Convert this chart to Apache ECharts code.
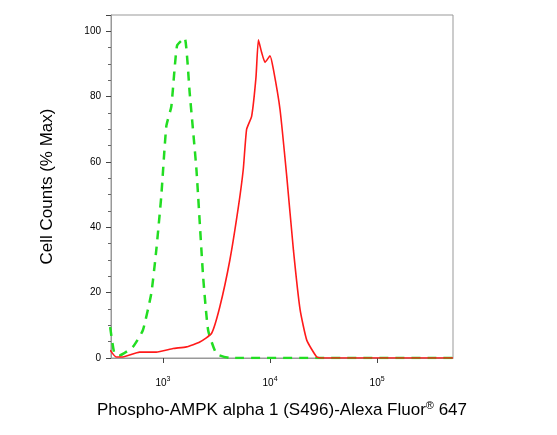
<!DOCTYPE html><html><head><meta charset="utf-8"><script src="https://cdn.jsdelivr.net/npm/echarts@6/dist/echarts.min.js"></script></head><body style="margin:0"><div id="c" style="width:557px;height:435px"></div><script>
const isoX=[321,352,392,523,649,778,866,964,1075,1197,1353,1596,1778,2054,2371,2642,3162,4217,512000];
const isoY=[9.5,1.3,0.8,3.4,8.5,19.8,33,49.5,71,77,95.6,98,81,57.7,25,8.5,1.3,0,0];
const ampkX=[321,365,422,604,866,1241,1655,2208,2839,3398,4217,5051,5623,6043,6733,7396,7785,8356,8981,10000,10746,12409,14330,16548,19110,22067,27384,31623,512000];
const ampkY=[2.4,0.3,0.3,1.8,1.8,2.9,3.4,4.9,7.5,15.7,30,46,57.7,70,74,86,97.4,93.5,90.5,92.5,88.4,76,55.6,33,14.7,5.4,0.3,0,0];
const yTicks=[0,20,40,60,80,100];
const sup={s:{fontSize:7,verticalAlign:'top',padding:[0,0,8,0],fontFamily:'Liberation Sans'}};
const pair=(xs,ys)=>xs.map((x,i)=>[x,ys[i]]);
const ch=echarts.init(document.getElementById('c'));
ch.setOption({animation:false,
grid:{left:111,right:104,top:15,bottom:77,show:true,borderColor:'#999',borderWidth:1},
xAxis:{type:'log',logBase:10,min:327,max:512000,
 axisLine:{lineStyle:{color:'#999'}},axisTick:{length:5,lineStyle:{color:'#444'}},splitLine:{show:false},
 axisLabel:{color:'#000',fontSize:10,fontFamily:'Liberation Sans',margin:18,showMinLabel:false,showMaxLabel:false,formatter:v=>'10{s|'+Math.round(Math.log10(v))+'}',rich:sup},
 name:'Phospho-AMPK alpha 1 (S496)-Alexa Fluor{r|®} 647',nameLocation:'middle',nameGap:42,
 nameTextStyle:{color:'#000',fontSize:17,fontFamily:'Liberation Sans',rich:{r:{fontSize:11,verticalAlign:'top',padding:[0,0,10,0],fontFamily:'Liberation Sans'}}}},
yAxis:{type:'value',min:0,max:105,interval:20,
 axisLine:{show:true,lineStyle:{color:'#999'}},axisTick:{show:true,length:5,lineStyle:{color:'#444'}},
 minorTick:{show:true,splitNumber:4,length:3,lineStyle:{color:'#666'}},splitLine:{show:false},
 axisLabel:{color:'#000',fontSize:10,fontFamily:'Liberation Sans',margin:10,formatter:v=>yTicks.includes(v)?String(v):''},
 name:'Cell Counts (% Max)',nameLocation:'middle',nameGap:55,nameTextStyle:{color:'#000',fontSize:17,fontFamily:'Liberation Sans'}},
series:[
 {type:'line',data:pair(isoX,isoY),smooth:0.15,symbol:'none',lineStyle:{color:'#22dd22',width:2.5,type:[9,7]}},
 {type:'line',data:pair(ampkX,ampkY),smooth:0.15,symbol:'none',lineStyle:{color:'#ff1a1a',width:1.6}}
]});
</script></body></html>
